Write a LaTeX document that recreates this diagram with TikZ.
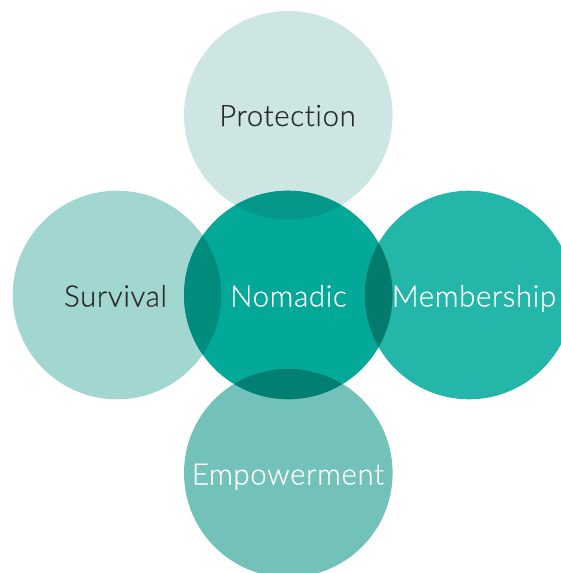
\documentclass[tikz,border=0pt]{standalone}
\usepackage{fontspec}
\setmainfont{Lato}[UprightFont={* Light},Ligatures={NoCommon},FakeBold=0.5,LetterSpace=2]
\definecolor{cProt}{HTML}{CEE6E3}
\definecolor{cSurv}{HTML}{A2D6D0}
\definecolor{cNom}{HTML}{02A898}
\definecolor{cMem}{HTML}{23B6A9}
\definecolor{cEmp}{HTML}{72C2B9}
\definecolor{oProt}{HTML}{05978A}
\definecolor{oSurv}{HTML}{028C7E}
\definecolor{oMem}{HTML}{027A6C}
\definecolor{oEmp}{HTML}{017F72}
\definecolor{darktext}{HTML}{2B2B2B}
\begin{document}
\begin{tikzpicture}[x=1pt,y=-1pt,
  bubble/.style={circle,minimum size=208.6pt,inner sep=0pt,outer sep=0pt,draw=none},
  label/.style={anchor=base,inner sep=0pt,font=\fontsize{29.5}{29.5}\selectfont}]
\useasboundingbox (0,0) rectangle (561,573);
\node[bubble,fill=cProt] (prot) at (288.3,115.2) {};
\node[bubble,fill=cSurv] (surv) at (117,295) {};
\node[bubble,fill=cNom]  (nom)  at (288.3,295) {};
\node[bubble,fill=cMem]  (mem)  at (469,295) {};
\node[bubble,fill=cEmp]  (emp)  at (288.3,473) {};
% overlaps
\begin{scope}
  \clip (nom.center) circle[radius=104.3pt];
  \fill[oProt] (prot.center) circle[radius=104.3pt];
  \fill[oSurv] (surv.center) circle[radius=104.3pt];
  \fill[oMem]  (mem.center)  circle[radius=104.3pt];
  \fill[oEmp]  (emp.center)  circle[radius=104.3pt];
\end{scope}
% labels
\node[label,text=darktext] (tprot) at (287.5,126) {Protection};
\node[label,text=darktext] (tsurv) at (115.5,306.5) {Survival};
\node[label,text=white] (tnom) at (288.5,306.5) {Nomadic};
\node[label,text=white] (tmem) at (474,306.5) {Membership};
\node[label,text=white] (temp) at (288,484.5) {Empowerment};
\end{tikzpicture}
\end{document}
